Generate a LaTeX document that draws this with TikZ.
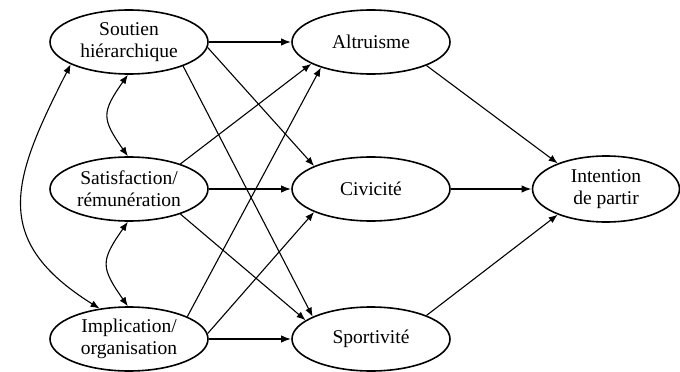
\documentclass[tikz,border=0pt]{standalone}
\usepackage{fontspec}
\setmainfont{Liberation Serif}
\usetikzlibrary{shapes.geometric,arrows.meta}

\begin{document}
\begin{tikzpicture}[x=1pt,y=1pt,
  var/.style={ellipse, draw, line width=1.6pt, minimum width=158pt, minimum height=64pt,
    inner sep=0pt, align=center, font=\fontsize{19.5}{22}\selectfont},
  path/.style={line width=1.1pt, -{Latex[length=9pt,width=7pt]}},
  mainpath/.style={line width=1.8pt, -{Latex[length=10pt,width=7.5pt]}},
  corr/.style={line width=1.1pt, {Latex[length=9pt,width=7pt]}-{Latex[length=9pt,width=7pt]}}]

\useasboundingbox (0,0) rectangle (680,-372);

% Predictors
\node[var] (soutien) at (129,-42) {Soutien\\hiérarchique};
\node[var] (satisf) at (129,-189) {Satisfaction/\\rémunération};
\node[var] (implic) at (129,-339) {Implication/\\organisation};

% Citizenship behaviours
\node[var] (altru) at (371,-42) {Altruisme};
\node[var] (civic) at (371,-189) {Civicité};
\node[var] (sport) at (371,-339) {Sportivité};

% Outcome
\node[var, minimum width=147pt, minimum height=66pt] (partir) at (606,-189) {Intention\\de partir};

% Correlations between predictors
\draw[corr] (soutien.201) to[out=243, in=148, looseness=1.35] (implic.134);
\draw[corr] (soutien.268) to[out=235, in=125, looseness=1.45] (satisf.92);
\draw[corr] (satisf.268) to[out=235, in=125, looseness=1.45] (implic.92);

% Paths from predictors
\draw[mainpath] (soutien) -- (altru);
\draw[path] (soutien.-4) -- (civic.158);
\draw[path] (soutien.-24) -- (sport.159);
\draw[path] (satisf.26) -- (altru.200);
\draw[mainpath] (satisf) -- (civic);
\draw[path] (satisf.-26) -- (sport.164);
\draw[path] (implic.21) -- (altru.207);
\draw[path] (implic.4) -- (civic.202);
\draw[mainpath] (implic) -- (sport);

% Paths to intention
\draw[path] (altru.-23) -- (partir.152);
\draw[mainpath] (civic) -- (partir);
\draw[path] (sport.23) -- (partir.208);

\end{tikzpicture}
\end{document}
